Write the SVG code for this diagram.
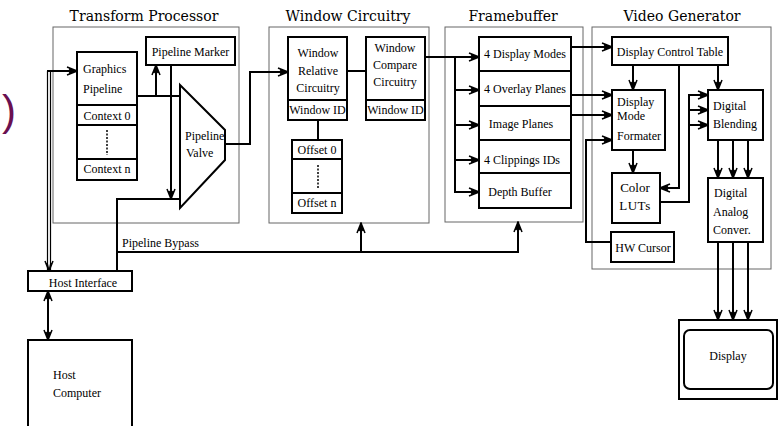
<svg xmlns="http://www.w3.org/2000/svg" width="782" height="426" viewBox="0 0 782 426">
<defs>
<style>
.grp{fill:none;stroke:#666;stroke-width:1}
.box{fill:#fff;stroke:#000;stroke-width:2}
.ln{fill:none;stroke:#000;stroke-width:2}
.thin{fill:none;stroke:#000;stroke-width:1.2}
.dot{fill:none;stroke:#000;stroke-width:1.5;stroke-dasharray:2 1.5}
.title{font-family:"DejaVu Serif","Liberation Serif",serif;font-size:14px;fill:#000;text-anchor:middle}
.t{font-family:"Liberation Serif","Times New Roman",serif;font-size:12px;fill:#000}
.c{text-anchor:middle}
.big{font-size:13px}
</style>
<marker id="ah" viewBox="0 0 12 10" refX="11" refY="5" markerWidth="12" markerHeight="10" markerUnits="userSpaceOnUse" orient="auto-start-reverse">
<path d="M1,1 L11,5 L1,9 M3,3 L11,5 L3,7" fill="none" stroke="#000" stroke-width="1.5"/>
</marker>
</defs>
<rect width="782" height="426" fill="#fff"/>

<text x="2" y="125" font-family="Liberation Sans, Arial, sans-serif" font-size="42" fill="#6a1050">)</text>

<g id="transform-processor">
<rect class="grp" x="53" y="27" width="186" height="196"/>
<text class="title" x="144" y="21">Transform Processor</text>
</g>
<g id="graphics-pipeline">
<rect class="box" x="77" y="52" width="60" height="128"/>
<path class="ln" d="M77,105 H137 M77,125 H137 M77,159 H137"/>
<path class="dot" d="M107,130 V155"/>
<text class="t" x="83" y="73">Graphics</text>
<text class="t" x="83" y="93">Pipeline</text>
<text class="t c" x="107" y="120">Context 0</text>
<text class="t c" x="107" y="173">Context n</text>
</g>
<g id="pipeline-marker">
<rect class="box" x="146" y="37" width="89" height="28"/>
<text class="t c" x="190.5" y="56">Pipeline Marker</text>
</g>
<g id="pipeline-valve">
<polygon class="box" points="180,85 225,130 225,160 180,208"/>
<text class="t" x="185" y="140">Pipeline</text>
<text class="t" x="186" y="157">Valve</text>
</g>

<g id="window-circuitry">
<rect class="grp" x="269" y="27" width="160" height="196"/>
<text class="title" x="348" y="21">Window Circuitry</text>
</g>
<g id="window-relative-circuitry">
<rect class="box" x="288" y="37" width="59" height="83"/>
<path class="ln" d="M288,100 H347"/>
<text class="t c" x="318" y="57">Window</text>
<text class="t c" x="318" y="75">Relative</text>
<text class="t c" x="318" y="92">Circuitry</text>
<text class="t c" x="317.5" y="114">Window ID</text>
</g>
<g id="window-compare-circuitry">
<rect class="box" x="366" y="37" width="59" height="83"/>
<path class="ln" d="M366,100 H425"/>
<text class="t c" x="395" y="52">Window</text>
<text class="t c" x="395" y="69">Compare</text>
<text class="t c" x="395" y="86">Circuitry</text>
<text class="t c" x="395.5" y="114">Window ID</text>
</g>
<g id="offsets">
<rect class="box" x="292" y="140" width="50" height="73"/>
<path class="ln" d="M292,159 H342 M292,193 H342"/>
<path class="dot" d="M318,165 V189"/>
<text class="t c" x="317" y="154">Offset 0</text>
<text class="t c" x="317" y="207">Offset n</text>
</g>

<g id="framebuffer">
<rect class="grp" x="445" y="27" width="138" height="195"/>
<text class="title" x="513" y="21">Framebuffer</text>
</g>
<g id="framebuffer-planes">
<rect class="box" x="479" y="37" width="92" height="171"/>
<path class="ln" d="M479,71 H571 M479,106 H571 M479,140 H571 M479,173 H571"/>
<text class="t c" x="525" y="58">4 Display Modes</text>
<text class="t c" x="525" y="93">4 Overlay Planes</text>
<text class="t c" x="521" y="128">Image Planes</text>
<text class="t c" x="522" y="164">4 Clippings IDs</text>
<text class="t c" x="520" y="196">Depth Buffer</text>
</g>

<g id="video-generator">
<rect class="grp" x="592" y="27" width="179" height="242"/>
<text class="title" x="682" y="21">Video Generator</text>
</g>
<g id="display-control-table">
<rect class="box" x="612" y="37" width="116" height="28"/>
<text class="t c" x="670" y="56">Display Control Table</text>
</g>
<g id="display-mode-formater">
<rect class="box" x="612" y="90" width="53" height="60"/>
<text class="t" x="617" y="106">Display</text>
<text class="t" x="617" y="120">Mode</text>
<text class="t" x="617" y="140">Formater</text>
</g>
<g id="digital-blending">
<rect class="box" x="708" y="90" width="55" height="50"/>
<text class="t" x="713" y="110">Digital</text>
<text class="t" x="713" y="128">Blending</text>
</g>
<g id="color-luts">
<rect class="box" x="612" y="173" width="48" height="50"/>
<text class="t c big" x="635" y="192">Color</text>
<text class="t c big" x="635" y="210" letter-spacing="0.5">LUTs</text>
</g>
<g id="digital-analog-converter">
<rect class="box" x="708" y="178" width="55" height="64"/>
<text class="t" x="714" y="197">Digital</text>
<text class="t" x="713" y="216">Analog</text>
<text class="t" x="713" y="234">Conver.</text>
</g>
<g id="hw-cursor">
<rect class="box" x="611" y="232" width="63" height="30"/>
<text class="t c" x="643" y="252">HW Cursor</text>
</g>
<g id="display">
<rect class="box" x="679" y="320" width="98" height="79"/>
<rect class="box" x="684" y="330" width="89" height="59" rx="6"/>
<text class="t c" x="728" y="360">Display</text>
</g>

<g id="host-interface">
<rect class="box" x="28" y="271" width="104" height="20"/>
<text class="t c" x="83" y="287">Host Interface</text>
</g>
<g id="host-computer">
<rect class="box" x="28" y="340" width="104" height="100"/>
<text class="t" x="53" y="379">Host</text>
<text class="t" x="53" y="397">Computer</text>
</g>

<g id="connectors">
<path class="thin" d="M47.5,271 V71 M50.5,271 V71"/>
<path class="ln" d="M47,71 H77" marker-end="url(#ah)"/>
<path d="M49,255 V271" fill="none" stroke="none" marker-end="url(#ah)"/>
<path class="ln" d="M48,291 V340" marker-start="url(#ah)" marker-end="url(#ah)"/>
<path class="ln" d="M137,96 H180"/>
<path class="ln" d="M156,96 V65" marker-end="url(#ah)"/>
<path class="ln" d="M171,65 V199" marker-end="url(#ah)"/>
<path class="ln" d="M180,199 H117 V271"/>
<path class="ln" d="M225,144 H250 V72 H288" marker-end="url(#ah)"/>
<path class="ln" d="M347,71 H366"/>
<path class="ln" d="M318,120 V140"/>
<path class="ln" d="M117,252 H518 V222" marker-end="url(#ah)"/>
<path class="ln" d="M361,252 V223" marker-end="url(#ah)"/>
<text class="t" x="122" y="247">Pipeline Bypass</text>
<path class="ln" d="M425,57 H479" marker-end="url(#ah)"/>
<path class="ln" d="M455,57 V192"/>
<path class="ln" d="M455,90 H479" marker-end="url(#ah)"/>
<path class="ln" d="M455,125 H479" marker-end="url(#ah)"/>
<path class="ln" d="M455,160 H479" marker-end="url(#ah)"/>
<path class="ln" d="M454,192 H479" marker-end="url(#ah)"/>
<path class="ln" d="M571,47 H612" marker-end="url(#ah)"/>
<path class="ln" d="M571,95 H612" marker-end="url(#ah)"/>
<path class="ln" d="M571,115 H612" marker-end="url(#ah)"/>
<path class="ln" d="M611,242 H586 V140 H612" marker-end="url(#ah)"/>
<path class="ln" d="M633,65 V90" marker-end="url(#ah)"/>
<path class="ln" d="M718,65 V90" marker-end="url(#ah)"/>
<path class="ln" d="M679,65 V188 H660" marker-end="url(#ah)"/>
<path class="ln" d="M633,150 V173" marker-end="url(#ah)"/>
<path class="ln" d="M660,202 H689 V95 H708" marker-end="url(#ah)"/>
<path class="ln" d="M689,110 H708" marker-end="url(#ah)"/>
<path class="ln" d="M689,125 H708" marker-end="url(#ah)"/>
<path class="ln" d="M718,140 V178" marker-end="url(#ah)"/>
<path class="ln" d="M733,140 V178" marker-end="url(#ah)"/>
<path class="ln" d="M748,140 V178" marker-end="url(#ah)"/>
<path class="ln" d="M718,242 V320" marker-end="url(#ah)"/>
<path class="ln" d="M733,242 V320" marker-end="url(#ah)"/>
<path class="ln" d="M748,242 V320" marker-end="url(#ah)"/>
</g>
</svg>
